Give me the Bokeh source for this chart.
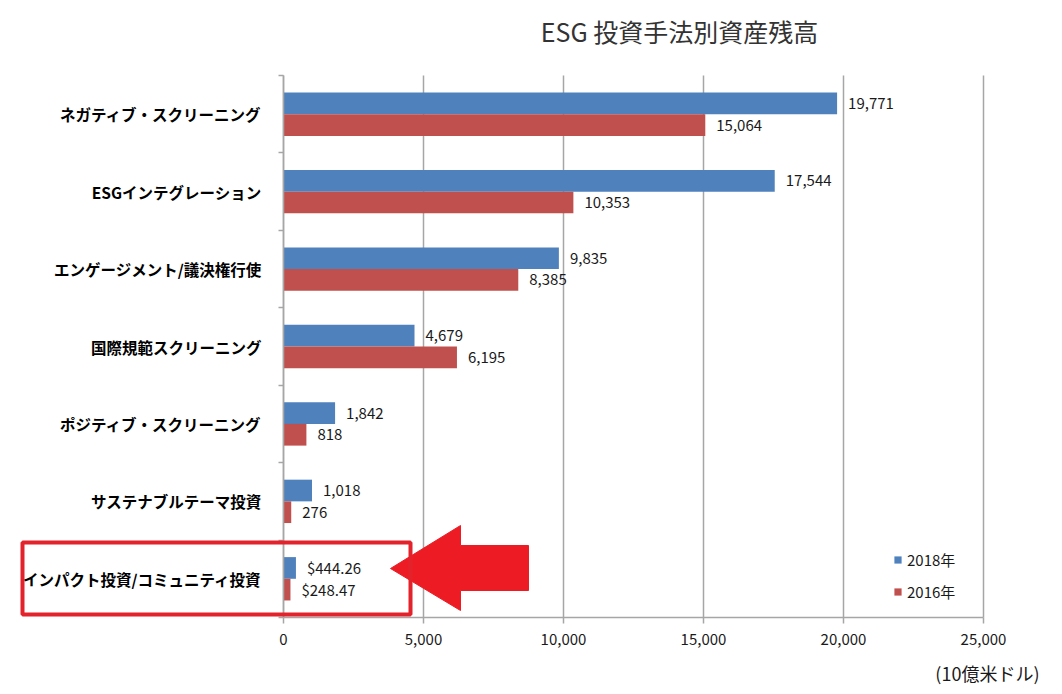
from bokeh.plotting import figure
from bokeh.models import (ColumnDataSource, FixedTicker, NumeralTickFormatter, Label,
                          BoxAnnotation, Legend, LegendItem, Range1d, Grid)
from bokeh.core.properties import value
from bokeh.embed import file_html
from bokeh.resources import INLINE

# ---- data ----
categories = ["ネガティブ・スクリーニング", "ESGインテグレーション", "エンゲージメント/議決権行使",
              "国際規範スクリーニング", "ポジティブ・スクリーニング", "サステナブルテーマ投資",
              "インパクト投資/コミュニティ投資"]
values_2018 = [19771, 17544, 9835, 4679, 1842, 1018, 444.26]
values_2016 = [15064, 10353, 8385, 6195, 818, 276, 248.47]
labels_2018 = ["19,771", "17,544", "9,835", "4,679", "1,842", "1,018", "$444.26"]
labels_2016 = ["15,064", "10,353", "8,385", "6,195", "818", "276", "$248.47"]
series_names = ["2018年", "2016年"]
x_ticks = [0, 5000, 10000, 15000, 20000, 25000]
title_text = "ESG 投資手法別資産残高"
unit_text = "(10億米ドル)"

FONT = "Noto Sans CJK JP"
BLUE = "#4F81BD"
RED = "#C0504D"
GRID = "#A6A6A6"
W, H = 1054, 686

n = len(categories)
pos = list(range(n))
off = 0.14
bh = 0.28

# pixel <-> data mapping of the plotting area (value axis 0..25000 over 283..983 px,
# categories -0.5..6.5 over 75..617 px); the frame covers the whole canvas
X0, PXK = 283.0, 700.0 / 25000.0
Y0, PYU = 75.0, 542.0 / n
def dx(px):
    return (px - X0) / PXK
def dy(py):
    return (py - Y0) / PYU - 0.5

p = figure(width=W, height=H, output_backend="svg", toolbar_location=None,
           x_range=Range1d(dx(0), dx(W)), y_range=Range1d(dy(H), dy(0)),
           min_border=0, min_border_left=0, min_border_right=0,
           min_border_top=0, min_border_bottom=0)
p.outline_line_color = None
p.background_fill_color = "white"
p.border_fill_color = "white"

src = ColumnDataSource(dict(
    y18=[i - off for i in pos], y16=[i + off for i in pos],
    v18=values_2018, v16=values_2016, l18=labels_2018, l16=labels_2016))

# vertical grid lines limited to the plotting area
p.xgrid.grid_line_color = None
p.ygrid.grid_line_color = None
if "cross_bounds" in Grid.properties():
    g = Grid(dimension=0, ticker=FixedTicker(ticks=x_ticks), grid_line_color=GRID,
             grid_line_width=1.5, cross_bounds=(-0.5, n - 0.5))
    p.add_layout(g)
else:
    p.segment(x0=x_ticks, x1=x_ticks, y0=[-0.5] * len(x_ticks), y1=[n - 0.5] * len(x_ticks),
              line_color=GRID, line_width=1.5)

r18 = p.hbar(y="y18", right="v18", left=0, height=bh, source=src, fill_color=BLUE, line_color=None)
r16 = p.hbar(y="y16", right="v16", left=0, height=bh, source=src, fill_color=RED, line_color=None)

for xcol, ycol, lcol in (("v18", "y18", "l18"), ("v16", "y16", "l16")):
    p.text(x=xcol, y=ycol, text=lcol, source=src, x_offset=11,
           text_font=value(FONT), text_font_size="15px", text_color="#1a1a1a",
           text_baseline="middle", text_align="left")

# x axis, drawn at the bottom of the category area
xa = p.xaxis[0]
xa.fixed_location = n - 0.5
xa.bounds = (0, 25000)
xa.ticker = FixedTicker(ticks=x_ticks)
xa.formatter = NumeralTickFormatter(format="0,0")
xa.axis_line_color = GRID
xa.axis_line_width = 1.5
xa.major_tick_line_color = GRID
xa.major_tick_line_width = 1.5
xa.major_tick_out = 6
xa.major_tick_in = 0
xa.minor_tick_line_color = None
xa.major_label_standoff = 10
xa.major_label_text_font = FONT
xa.major_label_text_font_size = "15px"
xa.major_label_text_color = "#1a1a1a"

# y axis, drawn at value 0
ya = p.yaxis[0]
ya.fixed_location = 0
ya.bounds = (-0.5, n - 0.5)
ya.ticker = FixedTicker(ticks=pos, minor_ticks=[i + 0.5 for i in range(-1, n)])
ya.major_label_overrides = {i: c for i, c in enumerate(categories)}
ya.axis_line_color = GRID
ya.axis_line_width = 1.5
ya.major_tick_line_color = None
ya.major_tick_out = 0
ya.major_tick_in = 0
ya.minor_tick_line_color = GRID
ya.minor_tick_line_width = 1.5
ya.minor_tick_out = 5
ya.minor_tick_in = 0
ya.major_label_standoff = 17
ya.major_label_text_font = FONT
ya.major_label_text_font_size = "15.5px"
ya.major_label_text_font_style = "bold"
ya.major_label_text_color = "#000000"

# title
p.add_layout(Label(x=dx(679), y=dy(30), text=title_text, text_align="center",
                   text_baseline="middle", text_font=FONT, text_font_size="25px",
                   text_color="#333333"))
# unit label
p.add_layout(Label(x=dx(1039), y=dy(672), text=unit_text, text_align="right",
                   text_baseline="middle", text_font=FONT, text_font_size="18px",
                   text_color="#1a1a1a"))

# legend
legend = Legend(items=[LegendItem(label=series_names[0], renderers=[r18]),
                       LegendItem(label=series_names[1], renderers=[r16])],
                location=(893, H - 602), glyph_width=9, glyph_height=9, label_height=20,
                spacing=11, padding=0, margin=0, label_standoff=5,
                label_text_font=FONT, label_text_font_size="15px",
                label_text_color="#1a1a1a", border_line_color=None,
                background_fill_alpha=0)
p.add_layout(legend)

# red highlight box and arrow
p.add_layout(BoxAnnotation(left=dx(22), right=dx(410), top=dy(542), bottom=dy(614),
                           fill_alpha=0, line_color="#E3222B", line_alpha=1, line_width=4))
p.patch(x=[dx(390), dx(460), dx(460), dx(528), dx(528), dx(460), dx(460)],
        y=[dy(568), dy(525), dy(545), dy(545), dy(590), dy(590), dy(610)],
        fill_color="#ED1C24", line_color="#ED1C24", line_width=1)

open("out.html", "w").write(file_html(p, INLINE))
